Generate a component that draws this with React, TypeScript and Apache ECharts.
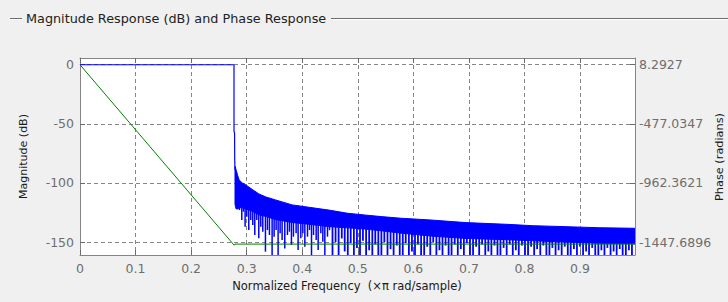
import React, { useEffect, useRef } from 'react';
import * as echarts from 'echarts';

const FONT = '"DejaVu Sans", Verdana, sans-serif';
const BLUE = '#0000ff';
const GREEN = '#008000';

const titleText = 'Magnitude Response (dB) and Phase Response';
const xName = 'Normalized Frequency  (\u00d7\u03c0 rad/sample)';
const yLeftName = 'Magnitude (dB)';
const yRightName = 'Phase (radians)';

const xTicks = [0, 0.1, 0.2, 0.3, 0.4, 0.5, 0.6, 0.7, 0.8, 0.9];
const magTicks = [0, -50, -100, -150];
const phaseTicks = [8.2927, -477.0347, -962.3621, -1447.6896];
const magRange = [-161, 5.7];
const freqMax = 0.999;

// passband + transition edge of the magnitude response (dB)
const passFreq = [0, 0.2772, 0.2772, 0.2782, 0.2785, 0.279];
const passMag = [0, 0, -56.5, -57.5, -80, -89];

// stopband: upper envelope of the sidelobes and lower edge of the solid blue band (dB)
const stopFreq = [0.279, 0.281, 0.284, 0.2865, 0.292, 0.2985, 0.31, 0.322, 0.335, 0.352, 0.382, 0.412, 0.448, 0.482, 0.512, 0.542, 0.578, 0.632, 0.695, 0.767, 0.815, 0.873, 0.933, 0.999];
const stopPeak = [-86, -89, -94, -97.5, -100, -101.7, -105.5, -109.3, -112, -114.4, -118.6, -120.6, -123, -125.7, -127.1, -128.5, -129.9, -131.4, -133.6, -135, -136.2, -137, -137.9, -138.4];
const stopFloor = [-118, -122, -122, -121, -121, -122, -124, -127, -128.5, -131, -133.5, -135, -137, -138, -139, -140.5, -142.5, -145, -147, -148, -149, -150, -151, -151.5];

// stopband nulls: [frequency, depth dB]
const stopNulls: [number, number][] = [
  [0.287, -123], [0.2912, -131.4], [0.2942, -124.4], [0.2972, -137.1], [0.3002, -128.6], [0.3038, -139.9],
  [0.3074, -131.4], [0.311, -135.6], [0.3146, -144.1], [0.3182, -131.4], [0.3218, -146.9], [0.3254, -137.1],
  [0.329, -141.3], [0.3338, -158.2], [0.3374, -139.9], [0.341, -144.1], [0.3458, -161], [0.3494, -145.5],
  [0.353, -139.9], [0.3566, -161], [0.3602, -142.7], [0.3638, -148.3], [0.3686, -155.4], [0.3734, -144.1],
  [0.377, -141.3], [0.3806, -152.6], [0.3842, -145.5], [0.389, -142.7], [0.3926, -156.8], [0.3975, -146.9],
  [0.4011, -142.7], [0.4047, -154], [0.4095, -145.5], [0.4131, -139.9], [0.4167, -161], [0.4203, -144.1],
  [0.4251, -148.3], [0.4287, -156.8], [0.4335, -142.7], [0.4371, -149.8], [0.4407, -161], [0.4455, -145.5],
  [0.4491, -140], [0.4545, -161], [0.46, -150], [0.4655, -161], [0.4712, -147], [0.4765, -158],
  [0.482, -161], [0.4873, -151], [0.493, -161], [0.4985, -155], [0.504, -161], [0.5093, -149],
  [0.515, -161], [0.5205, -157], [0.5262, -161], [0.5315, -152], [0.537, -161], [0.5425, -161],
  [0.5478, -150], [0.5535, -161], [0.559, -156], [0.5645, -161], [0.5702, -153], [0.5755, -161],
  [0.581, -161], [0.5863, -151], [0.592, -161], [0.5975, -158], [0.603, -161], [0.6083, -152],
  [0.614, -161], [0.6195, -161], [0.625, -154], [0.6305, -161], [0.6358, -150], [0.6415, -161],
  [0.647, -157], [0.6525, -161], [0.658, -153], [0.6635, -161], [0.6688, -161], [0.6745, -152],
  [0.68, -161], [0.6855, -156], [0.691, -161], [0.6963, -151], [0.702, -161], [0.7075, -161],
  [0.713, -154], [0.7185, -161], [0.7238, -152], [0.7295, -161], [0.735, -158], [0.7405, -161],
  [0.746, -153], [0.7515, -161], [0.7568, -161], [0.7625, -155], [0.768, -161], [0.7735, -152],
  [0.779, -161], [0.7845, -157], [0.7898, -161], [0.7955, -153], [0.801, -161], [0.8065, -161],
  [0.812, -154], [0.8175, -161], [0.8228, -156], [0.8285, -161], [0.834, -153], [0.8395, -161],
  [0.845, -161], [0.8503, -155], [0.856, -161], [0.8615, -157], [0.867, -161], [0.8725, -154],
  [0.878, -161], [0.8833, -161], [0.889, -156], [0.8945, -161], [0.9, -154], [0.9055, -161],
  [0.911, -158], [0.9163, -161], [0.922, -155], [0.9275, -161], [0.933, -161], [0.9385, -157],
  [0.944, -161], [0.9493, -155], [0.955, -161], [0.9605, -158], [0.966, -161], [0.9715, -156],
  [0.9768, -161], [0.9825, -161], [0.988, -157], [0.9935, -161],
];

// phase response (radians)
const phaseFreq = [0, 0.2775, 0.279, 0.999];
const phaseRad = [8.2927, -1474, -1465, -1465];

function floorAt(f: number): number {
  if (f <= stopFreq[0]) return stopFloor[0];
  for (let i = 1; i < stopFreq.length; i++) {
    if (f <= stopFreq[i]) {
      const t = (f - stopFreq[i - 1]) / (stopFreq[i] - stopFreq[i - 1]);
      return stopFloor[i - 1] + t * (stopFloor[i] - stopFloor[i - 1]);
    }
  }
  return stopFloor[stopFloor.length - 1];
}

export default function App() {
  const ref = useRef<HTMLDivElement>(null);
  useEffect(() => {
    document.body.style.margin = '0';
    document.body.style.background = '#f0f0f0';
    const chart = echarts.init(ref.current!, null, { renderer: 'svg' });
    const k = (phaseTicks[0] - phaseTicks[1]) / (magTicks[0] - magTicks[1]);
    const rightMin = phaseTicks[0] + magRange[0] * k;
    const rightMax = phaseTicks[0] + magRange[1] * k;
    const axisColor = '#858585';
    const tickColor = '#6a6a6a';
    const labelStyle = { color: '#6e6e6e', fontFamily: FONT, fontSize: 12.5 };
    const gridLine = { show: true, lineStyle: { color: '#858585', type: [4, 3] as any, width: 1 } };

    chart.setOption({
      animation: false,
      backgroundColor: '#f0f0f0',
      grid: {
        left: 80, top: 58, width: 555, height: 197, show: true, backgroundColor: '#ffffff', borderWidth: 0,
        containLabel: false, outerBoundsMode: 'none',
      },
      graphic: [
        { type: 'line', shape: { x1: 10, y1: 18.5, x2: 22, y2: 18.5 }, style: { stroke: '#6d6d6d', lineWidth: 1 } },
        { type: 'line', shape: { x1: 10, y1: 19.5, x2: 22, y2: 19.5 }, style: { stroke: '#ffffff', lineWidth: 1 } },
        { type: 'line', shape: { x1: 331, y1: 18.5, x2: 728, y2: 18.5 }, style: { stroke: '#6d6d6d', lineWidth: 1 } },
        { type: 'line', shape: { x1: 331, y1: 19.5, x2: 728, y2: 19.5 }, style: { stroke: '#ffffff', lineWidth: 1 } },
        {
          type: 'text', x: 26, y: 18,
          style: { text: titleText, font: '12.8px ' + FONT, fill: '#222222', verticalAlign: 'middle', align: 'left' },
        },
        {
          type: 'text', x: 719, y: 157, rotation: Math.PI / 2,
          style: { text: yRightName, font: '11.3px ' + FONT, fill: '#1a1a1a', verticalAlign: 'middle', align: 'center' },
        },
      ],
      xAxis: [
        {
          type: 'value', min: 0, max: freqMax, interval: 0.1, position: 'bottom',
          axisLine: { show: true, onZero: false, lineStyle: { color: axisColor, width: 1 } },
          axisTick: { show: true, inside: true, length: 5, customValues: xTicks, lineStyle: { color: tickColor } },
          axisLabel: { ...labelStyle, margin: 7, customValues: xTicks },
          splitLine: gridLine,
          name: xName, nameLocation: 'middle', nameGap: 23,
          nameTextStyle: { fontFamily: FONT, fontSize: 11.5, color: '#1a1a1a', padding: [0, 21, 0, 0] },
        },
        {
          type: 'value', min: 0, max: freqMax, interval: 0.1, position: 'top',
          axisLine: { show: true, onZero: false, lineStyle: { color: axisColor, width: 1 } },
          axisTick: { show: true, inside: true, length: 5, customValues: xTicks, lineStyle: { color: tickColor } },
          axisLabel: { show: false },
          splitLine: { show: false },
        },
      ],
      yAxis: [
        {
          type: 'value', min: magRange[0], max: magRange[1], position: 'left',
          axisLine: { show: true, onZero: false, lineStyle: { color: axisColor, width: 1 } },
          axisTick: { show: true, inside: true, length: 5, customValues: magTicks, lineStyle: { color: tickColor } },
          axisLabel: { ...labelStyle, margin: 6, customValues: magTicks },
          splitLine: gridLine,
          name: yLeftName, nameLocation: 'middle', nameRotate: 90, nameGap: 51,
          nameTextStyle: { fontFamily: FONT, fontSize: 11, color: '#1a1a1a' },
        },
        {
          type: 'value', min: rightMin, max: rightMax, position: 'right',
          axisLine: { show: true, onZero: false, lineStyle: { color: axisColor, width: 1 } },
          axisTick: { show: true, inside: true, length: 5, customValues: phaseTicks, lineStyle: { color: tickColor } },
          axisLabel: { ...labelStyle, margin: 4, customValues: phaseTicks, formatter: (v: number) => v.toFixed(4) },
          splitLine: { show: false },
        },
      ],
      series: [
        {
          name: 'stopband band', type: 'custom', xAxisIndex: 0, yAxisIndex: 0, clip: true,
          data: [[stopFreq[0], stopPeak[0]]],
          renderItem: (params: any, api: any) => {
            const pts: number[][] = [];
            for (let i = 0; i < stopFreq.length; i++) pts.push(api.coord([stopFreq[i], stopPeak[i]]));
            for (let i = stopFreq.length - 1; i >= 0; i--) pts.push(api.coord([stopFreq[i], stopFloor[i]]));
            return { type: 'polygon', shape: { points: pts }, style: { fill: BLUE, stroke: BLUE, lineWidth: 1 } };
          },
        },
        {
          name: 'stopband nulls', type: 'custom', xAxisIndex: 0, yAxisIndex: 0, clip: true,
          data: stopNulls,
          renderItem: (params: any, api: any) => {
            const f = api.value(0) as number;
            const d = api.value(1) as number;
            const top = api.coord([f, floorAt(f) + 0.5]);
            const bot = api.coord([f, d]);
            return {
              type: 'line',
              shape: { x1: top[0], y1: top[1], x2: bot[0], y2: bot[1] },
              style: { stroke: BLUE, lineWidth: f < 0.45 ? 1.5 : 1.8 },
            };
          },
        },
        {
          name: 'Magnitude', type: 'line', xAxisIndex: 0, yAxisIndex: 0, showSymbol: false, symbol: 'none',
          data: passFreq.map((f, i) => [f, passMag[i]]),
          lineStyle: { color: BLUE, width: 1.2 },
        },
        {
          name: 'Phase', type: 'line', xAxisIndex: 0, yAxisIndex: 1, showSymbol: false, symbol: 'none',
          data: phaseFreq.map((f, i) => [f, phaseRad[i]]),
          lineStyle: { color: GREEN, width: 1 },
        },
      ],
    });
    return () => chart.dispose();
  }, []);
  return (
    <div
      ref={ref}
      style={{ position: 'fixed', left: 0, top: 0, width: 728, height: 302, background: '#f0f0f0' }}
    />
  );
}
